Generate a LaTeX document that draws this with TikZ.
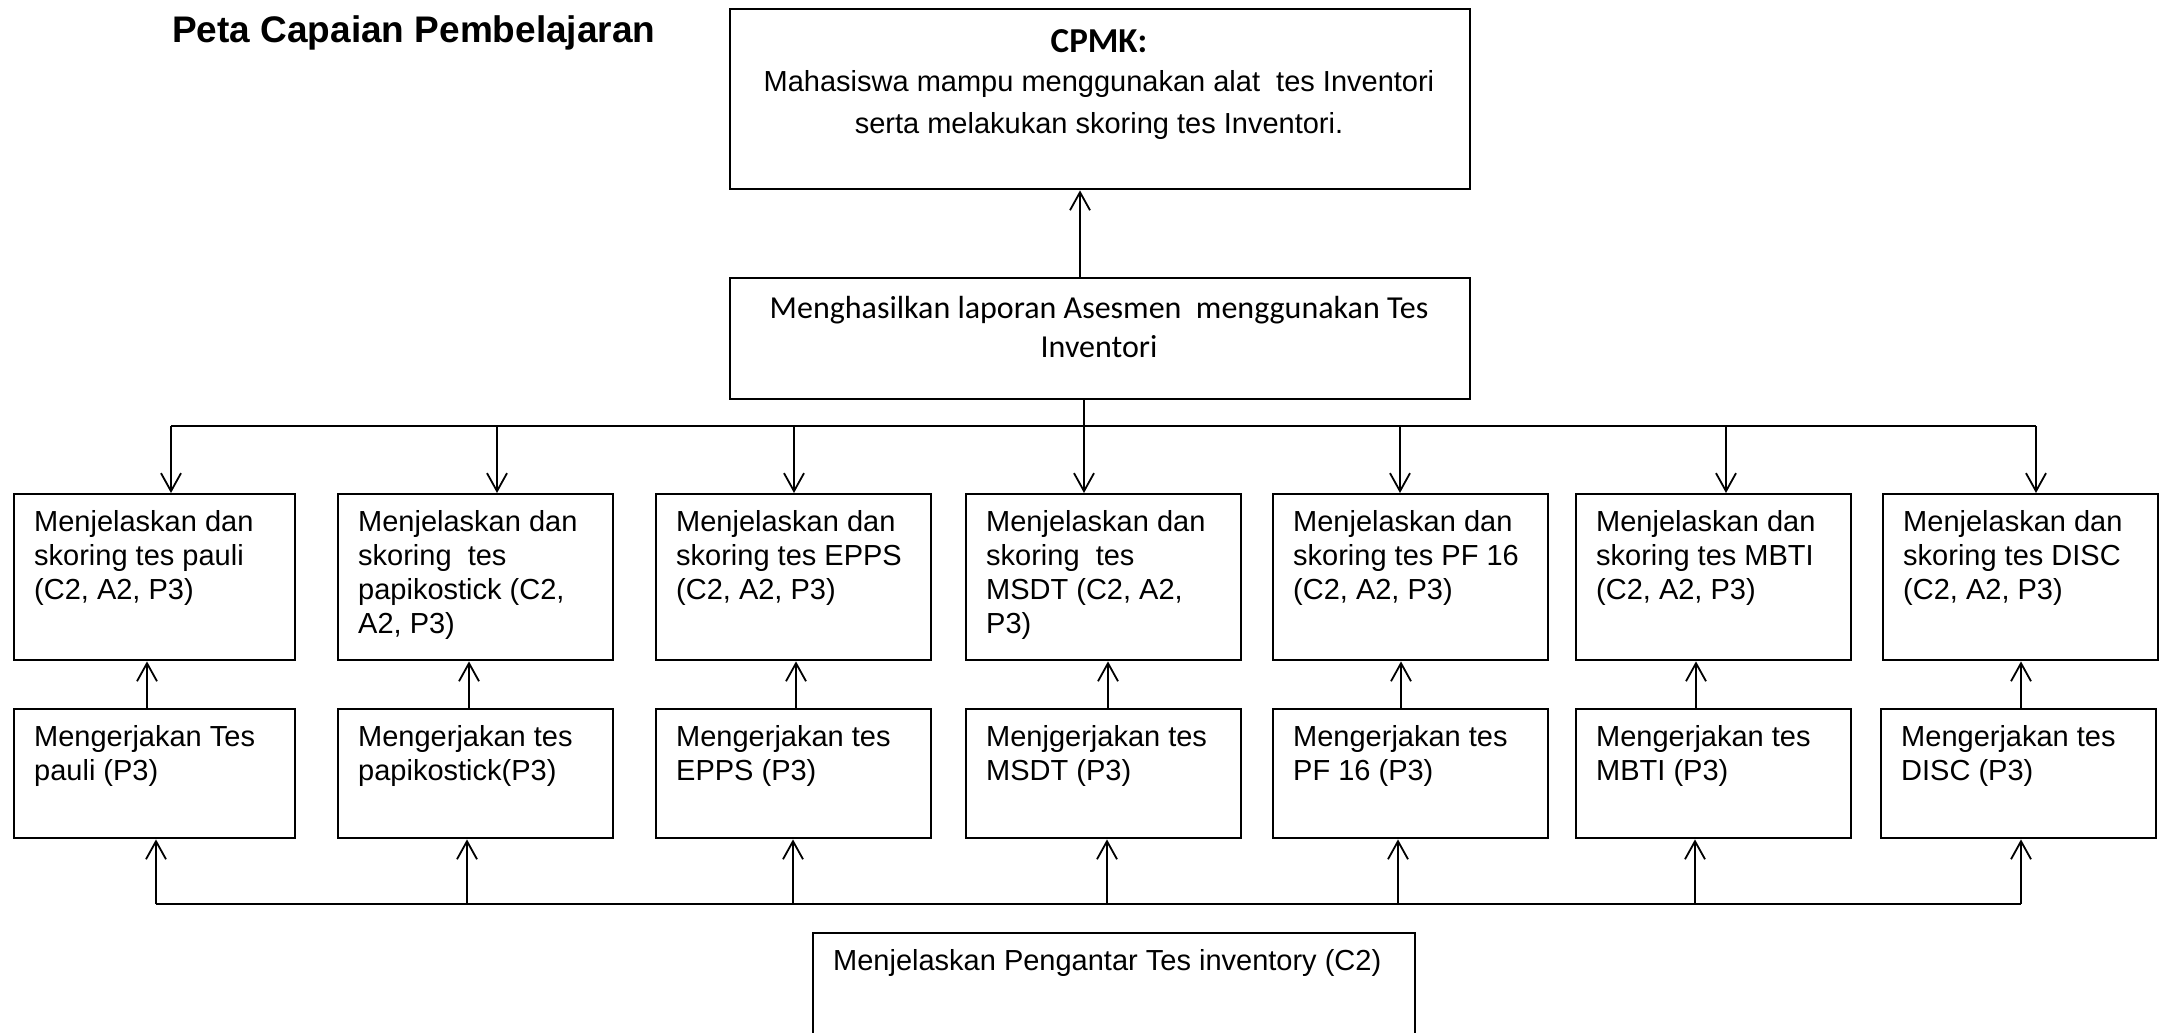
\documentclass[tikz,border=0pt]{standalone}
\usepackage{fontspec}
\setmainfont{Liberation Sans}
\newfontfamily\calibri{Carlito}
\usetikzlibrary{arrows.meta,calc}
\newcommand\mylines[1]{\begin{tabular}[t]{@{}l@{}}#1\end{tabular}}
\begin{document}
\begin{tikzpicture}[x=1pt,y=-1pt,
  boxst/.style={draw=black, line width=2.4pt, inner sep=0pt, anchor=north west},
  rowa/.style={boxst, minimum width=275pt, minimum height=166pt},
  rowb/.style={boxst, minimum width=275pt, minimum height=129pt},
  txt/.style={inner sep=0pt, anchor=base west, font=\fontsize{29}{34}\selectfont},
  ctxt/.style={inner sep=0pt, anchor=base, font=\fontsize{29}{34}\selectfont},
  arr/.style={line width=1.8pt, -{Straight Barb[length=18pt,width=20pt,line width=1.8pt]}},
  ln/.style={line width=1.8pt},
]
\useasboundingbox (0,0) rectangle (2161,1033);
\clip (0,0) rectangle (2161,1033);

% title
\node[inner sep=0pt, anchor=base west, font=\bfseries\fontsize{37}{44}\selectfont] (title) at (172,43) {Peta Capaian Pembelajaran};

% CPMK box
\node[boxst, minimum width=740pt, minimum height=180pt] (cpmk) at (729,8) {};
\node[inner sep=0pt, anchor=base, font=\calibri\bfseries\fontsize{35}{40}\selectfont] (cpmkh) at (1099,53) {CPMK:};
\node[ctxt] (cpmk1) at (1099,92) {Mahasiswa mampu menggunakan alat\ \ tes Inventori};
\node[ctxt] (cpmk2) at (1099,133) {serta melakukan skoring tes Inventori.};

% Menghasilkan box
\node[boxst, minimum width=740pt, minimum height=121pt] (hasil) at (729,277) {};
\node[inner sep=0pt, anchor=base, font=\calibri\fontsize{32}{39}\selectfont] (hasil1) at (1099,318) {Menghasilkan laporan Asesmen\ \ menggunakan Tes};
\node[inner sep=0pt, anchor=base, font=\calibri\fontsize{32}{39}\selectfont] (hasil2) at (1099,357) {Inventori};

% row 1 boxes
\node[rowa, minimum width=281pt] (b1) at (13,493) {};
\node[rowa] (b2) at (337,493) {};
\node[rowa] (b3) at (655,493) {};
\node[rowa] (b4) at (965,493) {};
\node[rowa] (b5) at (1272,493) {};
\node[rowa] (b6) at (1575,493) {};
\node[rowa] (b7) at (1882,493) {};
\node[txt] (b1t) at ([shift={(21pt,-38pt)}]b1.north west) {\mylines{Menjelaskan dan\\skoring tes pauli\\(C2, A2, P3)}};
\node[txt] (b2t) at ([shift={(21pt,-38pt)}]b2.north west) {\mylines{Menjelaskan dan\\skoring\ \ tes\\papikostick (C2,\\A2, P3)}};
\node[txt] (b3t) at ([shift={(21pt,-38pt)}]b3.north west) {\mylines{Menjelaskan dan\\skoring tes EPPS\\(C2, A2, P3)}};
\node[txt] (b4t) at ([shift={(21pt,-38pt)}]b4.north west) {\mylines{Menjelaskan dan\\skoring\ \ tes\\MSDT (C2, A2,\\P3)}};
\node[txt] (b5t) at ([shift={(21pt,-38pt)}]b5.north west) {\mylines{Menjelaskan dan\\skoring tes PF 16\\(C2, A2, P3)}};
\node[txt] (b6t) at ([shift={(21pt,-38pt)}]b6.north west) {\mylines{Menjelaskan dan\\skoring tes MBTI\\(C2, A2, P3)}};
\node[txt] (b7t) at ([shift={(21pt,-38pt)}]b7.north west) {\mylines{Menjelaskan dan\\skoring tes DISC\\(C2, A2, P3)}};

% row 2 boxes
\node[rowb, minimum width=281pt] (c1) at (13,708) {};
\node[rowb] (c2) at (337,708) {};
\node[rowb] (c3) at (655,708) {};
\node[rowb] (c4) at (965,708) {};
\node[rowb] (c5) at (1272,708) {};
\node[rowb] (c6) at (1575,708) {};
\node[rowb] (c7) at (1880,708) {};
\node[txt] (c1t) at ([shift={(21pt,-38pt)}]c1.north west) {\mylines{Mengerjakan Tes\\pauli (P3)}};
\node[txt] (c2t) at ([shift={(21pt,-38pt)}]c2.north west) {\mylines{Mengerjakan tes\\papikostick(P3)}};
\node[txt] (c3t) at ([shift={(21pt,-38pt)}]c3.north west) {\mylines{Mengerjakan tes\\EPPS (P3)}};
\node[txt] (c4t) at ([shift={(21pt,-38pt)}]c4.north west) {\mylines{Menjgerjakan tes\\MSDT (P3)}};
\node[txt] (c5t) at ([shift={(21pt,-38pt)}]c5.north west) {\mylines{Mengerjakan tes\\PF 16 (P3)}};
\node[txt] (c6t) at ([shift={(21pt,-38pt)}]c6.north west) {\mylines{Mengerjakan tes\\MBTI (P3)}};
\node[txt] (c7t) at ([shift={(21pt,-38pt)}]c7.north west) {\mylines{Mengerjakan tes\\DISC (P3)}};

% bottom box (runs past the lower edge)
\node[boxst, minimum width=602pt, minimum height=140pt] (intro) at (812,932) {};
\node[txt] (introt) at ([shift={(21pt,-38pt)}]intro.north west) {Menjelaskan Pengantar Tes inventory (C2)};

% junction coordinates
\coordinate (up) at (1080,0);
\coordinate (j1) at (171,426);
\coordinate (j2) at (497,426);
\coordinate (j3) at (794,426);
\coordinate (j4) at (1084,426);
\coordinate (j5) at (1400,426);
\coordinate (j6) at (1726,426);
\coordinate (j7) at (2036,426);
\coordinate (m1) at (147,0);
\coordinate (m2) at (469,0);
\coordinate (m3) at (796,0);
\coordinate (m4) at (1108,0);
\coordinate (m5) at (1401,0);
\coordinate (m6) at (1696,0);
\coordinate (m7) at (2021,0);
\coordinate (k1) at (156,904);
\coordinate (k2) at (467,904);
\coordinate (k3) at (793,904);
\coordinate (k4) at (1107,904);
\coordinate (k5) at (1398,904);
\coordinate (k6) at (1695,904);
\coordinate (k7) at (2021,904);

% connectors
\draw[arr] (hasil.north -| up) -- (cpmk.south -| up);
\draw[ln] (j1) -- (j7);
\draw[arr] (hasil.south -| j4) -- (b4.north -| j4);
\foreach \i in {1,2,3,5,6,7}{
  \draw[arr] (j\i) -- (b\i.north -| j\i);
}
\foreach \i in {1,...,7}{
  \draw[arr] (c\i.north -| m\i) -- (b\i.south -| m\i);
  \draw[arr] (k\i) -- (c\i.south -| k\i);
}
\draw[ln] (k1) -- (k7);
\end{tikzpicture}
\end{document}
